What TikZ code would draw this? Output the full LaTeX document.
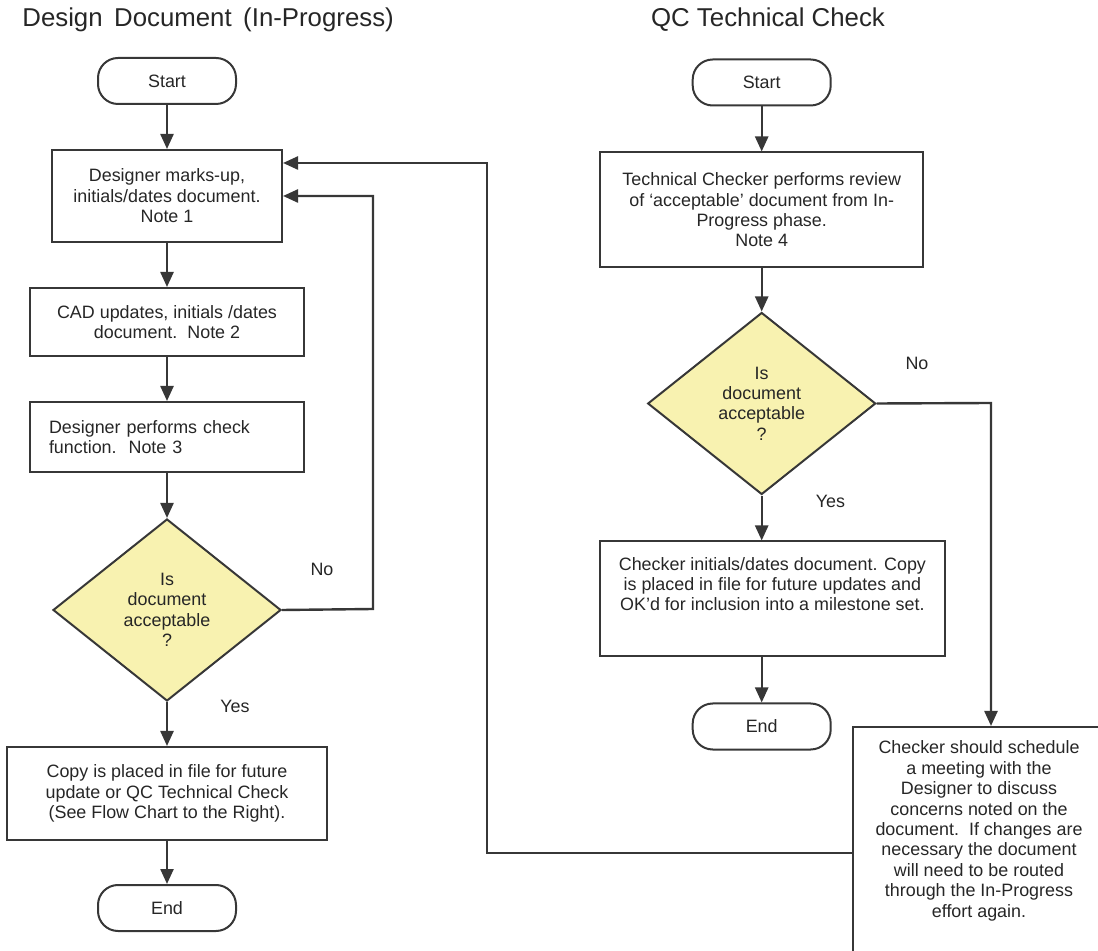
\documentclass[tikz,border=0pt]{standalone}
\usepackage{fontspec}
\setmainfont{Liberation Sans}
\usetikzlibrary{positioning, arrows.meta, shapes.geometric}

\definecolor{decfill}{RGB}{248,242,176}
\definecolor{ink}{RGB}{55,55,55}

\begin{document}
\begin{tikzpicture}
    [x=0.5pt, y=-0.5pt,
     every node/.style={align=center, text=black!85,
        font=\fontsize{8.95pt}{10.2pt}\selectfont},
     box/.style={draw=ink, line width=1pt, inner sep=3pt},
     term/.style={box, rounded corners=10pt, minimum width=69pt, minimum height=23pt},
     decision/.style={diamond, draw=ink, line width=1pt, fill=decfill, aspect=1.25,
        minimum width=114pt, minimum height=91pt, inner sep=0pt},
     heading/.style={font=\fontsize{12.9pt}{14pt}\selectfont, anchor=base, inner sep=0pt},
     lbl/.style={inner sep=0pt},
     arr/.style={draw=ink, line width=1.2pt, -{Triangle[length=7.5pt, width=6.5pt]}},
    ]
    \useasboundingbox (0,0) rectangle (1098,951);
    \clip (0,0) rectangle (1098,951);

    % in-progress chart
    \node [heading, anchor=base west] (head-design) at (22,26.7) {Design\hspace{5.75pt}Document\hspace{5.75pt}(In-Progress)};
    \node [term] (start-design) at (167,81) {Start};
    \node [box, minimum width=115pt, minimum height=46pt, below=22pt of start-design] (markup) {
        Designer marks-up,\\
        initials/dates document.\\
        Note 1
    };
    \node [box, minimum width=137pt, minimum height=34pt, below=22pt of markup] (cad) {
        CAD updates, initials /dates\\
        document.\ \ Note 2
    };
    \node [box, minimum width=137pt, minimum height=35pt, text width=118pt, align=left, below=22pt of cad] (self-check) {
        Designer performs check\\
        function.\ \ Note 3
    };
    \node [decision, below=22.5pt of self-check] (check-design) {Is\\ document\\ acceptable\\ ?};
    \node [box, minimum width=160.3pt, minimum height=46.5pt, below=22pt of check-design] (copy) {
        Copy is placed in file for future\\
        update or QC Technical Check\\
        (See Flow Chart to the Right).
    };
    \node [term, below=21.5pt of copy] (end-design) {End};
    \node [lbl] (no-design) at (322,569.5) {No};
    \node [lbl] (yes-design) at (235,706.5) {Yes};

    % qc chart
    \node [heading] (head-qc) at (768,26.7) {QC Technical Check};
    \node [term] (start-qc) at (761.7,82.5) {Start};
    \node [box, minimum width=161.5pt, minimum height=57.5pt, below=22.5pt of start-qc] (review) {
        Technical Checker performs review\\
        of ‘acceptable’ document from In-\\
        Progress phase.\\
        Note 4
    };
    \node [decision, below=21.5pt of review] (check-qc) {Is\\ document\\ acceptable\\ ?};
    \node [box, minimum width=172.5pt, minimum height=57.5pt, below=22.5pt of check-qc, xshift=5.35pt] (checker-ok) {
        Checker initials/dates document. Copy\\
        is placed in file for future updates and\\
        OK’d for inclusion into a milestone set.\\[4.8pt]
        \mbox{}
    };
    \node [term, below=22.5pt of checker-ok, xshift=-5.35pt] (end-qc) {End};
    \node [box, minimum width=126.5pt, inner ysep=7pt, anchor=north] (meeting) at (979,726) {
        Checker should schedule\\
        a meeting with the\\
        Designer to discuss\\
        concerns noted on the\\
        document.\ \ If changes are\\
        necessary the document\\
        will need to be routed\\
        through the In-Progress\\
        effort again.\\[30pt]
        \mbox{}
    };
    \node [lbl] (no-qc) at (917,363.5) {No};
    \node [lbl] (yes-qc) at (830.5,501.5) {Yes};

    \draw [arr] (start-design) -- (markup);
    \draw [arr] (markup) -- (cad);
    \draw [arr] (cad) -- (self-check);
    \draw [arr] (self-check) -- (check-design);
    \draw [arr] (check-design) -- (copy);
    \draw [arr] (copy) -- (end-design);
    \coordinate (loop-design) at (373,609);
    \draw [arr] (check-design.east) -- (loop-design) |- (markup.east);

    \draw [arr] (start-qc) -- (review);
    \draw [arr] (review) -- (check-qc);
    \draw [arr] (check-qc) -- (check-qc |- checker-ok.north);
    \draw [arr] (end-qc |- checker-ok.south) -- (end-qc);
    \coordinate (loop-qc) at (991,403);
    \draw [arr] (check-qc.east) -- (loop-qc) -- (loop-qc |- meeting.north);

    % back to the in-progress chart
    \coordinate (back-low) at (487,853);
    \coordinate (back-high) at (487,163);
    \draw [arr] (meeting.west |- back-low) -- (back-low) -- (back-high) -- (back-high -| markup.east);

\end{tikzpicture}
\end{document}
